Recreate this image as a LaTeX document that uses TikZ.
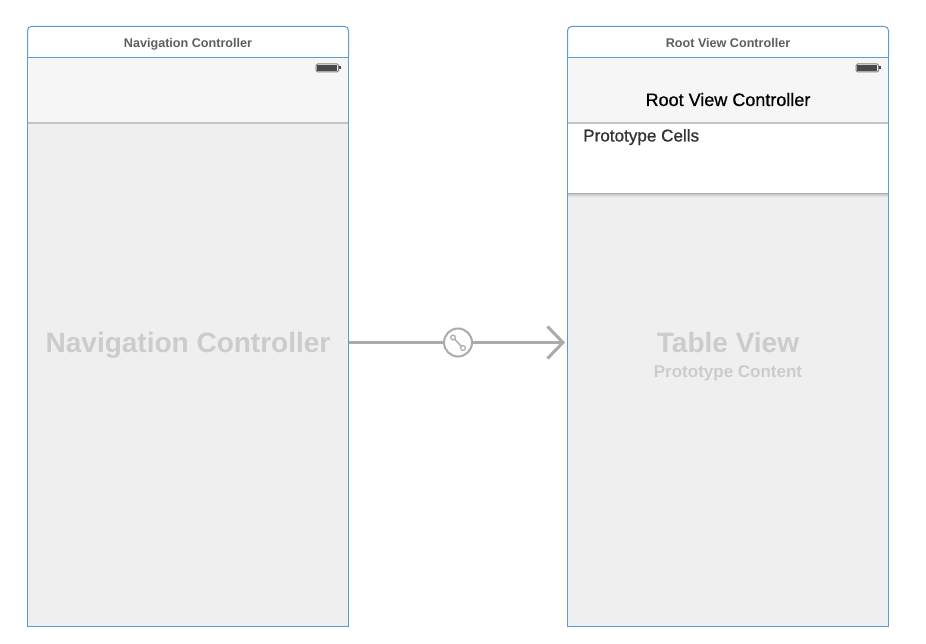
\documentclass[tikz,border=0pt]{standalone}
\usepackage{fontspec}
\setmainfont{Liberation Sans}
\newfontfamily\mediumfont[FakeBold=0.8]{Liberation Sans}
\definecolor{frameblue}{HTML}{5B9BD5}
\definecolor{canvasgrey}{HTML}{EFEFEF}
\definecolor{barfill}{HTML}{F6F6F6}
\definecolor{barline}{HTML}{C4C4C4}
\definecolor{titletext}{HTML}{5E5E5E}
\definecolor{bigtext}{HTML}{CCCCCC}
\definecolor{seguegrey}{HTML}{ABABAB}
\definecolor{batterydark}{HTML}{4A4A4A}
\tikzset{
  x=1pt,y=-1pt,
  scenetitle/.style={font=\bfseries\fontsize{12.6}{14}\selectfont,text=titletext,inner sep=0pt,anchor=base},
  bigtitle/.style={font=\bfseries\fontsize{28}{32}\selectfont,text=bigtext,inner sep=0pt,anchor=base},
  subtitle/.style={font=\bfseries\fontsize{17}{20}\selectfont,text=bigtext,inner sep=0pt,anchor=base},
  navtitle/.style={font=\mediumfont\fontsize{18}{20}\selectfont,text=black,inner sep=0pt,anchor=base},
  celltitle/.style={font=\mediumfont\fontsize{17.1}{20}\selectfont,text=black!80,inner sep=0pt,anchor=base west},
  frameline/.style={draw=frameblue,line width=1pt},
  segue/.style={draw=seguegrey,line width=3pt},
}
\newcommand{\scenebody}[1]{%
  \begin{scope}[shift={(#1,0)}]
    \fill[canvasgrey] (27.5,57.5) rectangle (348.5,626.5);
    \fill[barfill] (27.5,57.5) rectangle (348.5,122.5);
    \draw[barline,line width=1.4pt] (27.5,123) -- (348.5,123);
    % battery
    \draw[batterydark!70,line width=1pt,rounded corners=1.5pt] (316,64) rectangle (338.7,72);
    \fill[batterydark] (317.4,65.4) rectangle (337.3,70.6);
    \fill[batterydark] (339.2,66.5) rectangle (340.6,69.5);
  \end{scope}}
\newcommand{\sceneframe}[1]{%
  \begin{scope}[shift={(#1,0)}]
    \draw[frameline,rounded corners=4pt] (27.5,57.5) -- (27.5,26.5) -- (348.5,26.5) -- (348.5,57.5);
    \draw[frameline] (27.5,57.5) -- (348.5,57.5) (27.5,57.5) rectangle (348.5,626.5);
  \end{scope}}
\begin{document}
\begin{tikzpicture}
\useasboundingbox (0,0) rectangle (926,644);
\fill[white] (0,0) rectangle (926,644);
\scenebody{0}
\scenebody{540}
% prototype cell area with soft shadow
\foreach \d/\o in {1/0.10,2/0.07,3/0.05,4/0.03,5/0.02}
  \fill[black,opacity=\o] (567.5,193) rectangle (888.5,193+\d);
\fill[white] (567.5,123.7) rectangle (888.5,193);
\sceneframe{0}
\sceneframe{540}
% anchors for the connector
\coordinate (navframe) at (348.5,342.5);
\coordinate (rootframe) at (563,342.5);
\node[scenetitle] (navhead) at (188,48) {Navigation Controller};
\node[scenetitle] (roothead) at (728,48) {Root View Controller};
\node[navtitle] (rootbar) at (728,106) {Root View Controller};
\node[celltitle] (protocells) at (583,141.5) {Prototype Cells};
\node[bigtitle] (navbig) at (188,352.5) {Navigation Controller};
\node[bigtitle] (tablebig) at (728,352.5) {Table View};
\node[subtitle] (protosub) at (728,377) {Prototype Content};
% segue
\node[circle,draw=seguegrey,line width=2pt,fill=white,minimum size=28pt,inner sep=0pt] (seguenode) at (458,342.5) {};
\draw[segue] (navframe) -- (seguenode);
\draw[segue] (seguenode) -- (rootframe);
\draw[segue,line cap=butt,miter limit=10] (547.5,326.5) -- (563,342.5) -- (547.5,358.5);
% segue glyph
\coordinate (glyphA) at (453,337.5);
\coordinate (glyphB) at (463,348);
\draw[seguegrey,line width=1.4pt] (glyphA) -- (glyphB);
\draw[seguegrey,line width=1.2pt,fill=white] (glyphA) circle (2.4);
\draw[seguegrey,line width=1.2pt,fill=white] (glyphB) circle (2.4);
\end{tikzpicture}
\end{document}
